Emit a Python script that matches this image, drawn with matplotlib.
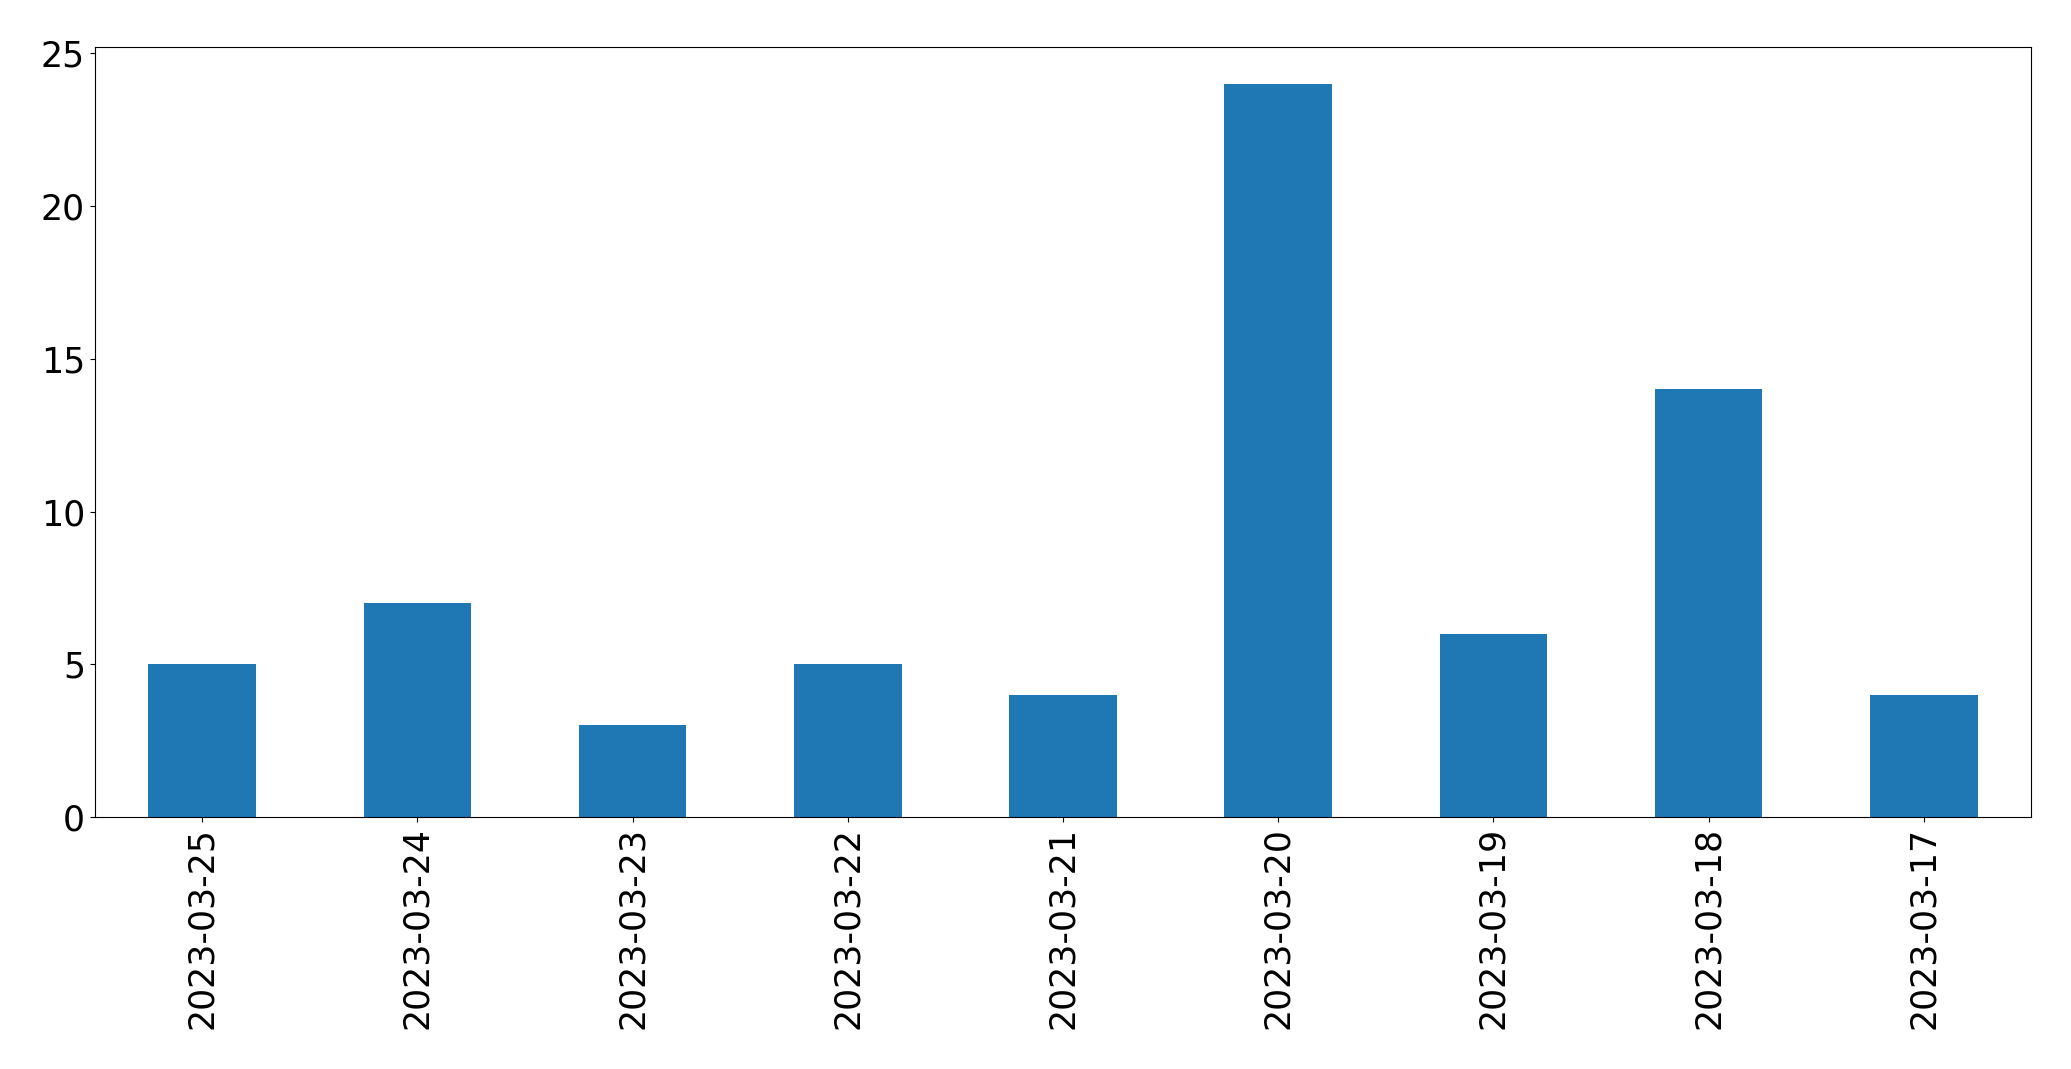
import matplotlib
matplotlib.use("Agg")
import matplotlib.pyplot as plt
import numpy as np

dates = ['2023-03-25', '2023-03-24', '2023-03-23', '2023-03-22', '2023-03-21',
         '2023-03-20', '2023-03-19', '2023-03-18', '2023-03-17']
counts = [5, 7, 3, 5, 4, 24, 6, 14, 4]

fig = plt.figure(figsize=(20.71, 10.69), dpi=100)
ax = fig.add_axes([0.0457, 0.2357, 0.9352, 0.7201])

x = np.arange(len(dates))
ax.bar(x, counts, width=0.5, color='#1f77b4')
ax.set_xlim(-0.5, len(dates) - 0.5)
ax.set_xticks(x)
ax.set_xticklabels(dates, rotation=90)
ax.tick_params(labelsize=25)

fig.savefig('out.png', dpi=100)
